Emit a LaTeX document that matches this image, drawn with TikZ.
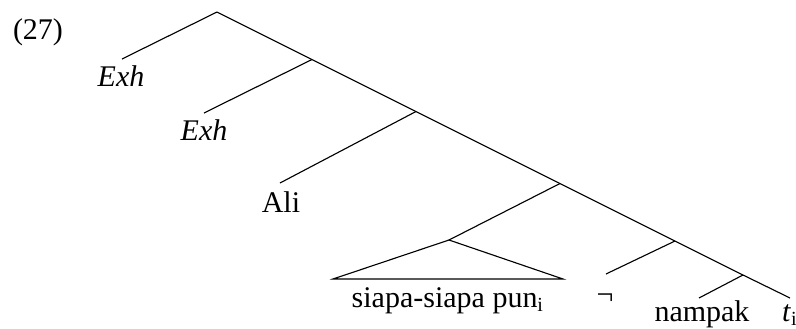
\documentclass[tikz,border=0pt]{standalone}
\usepackage{fontspec}
\setmainfont{Liberation Serif}
\begin{document}
\begin{tikzpicture}[x=0.4pt,y=-0.4pt,line width=0.45pt,
  lbl/.style={anchor=base,inner sep=0pt,font=\fontsize{12}{14}\selectfont}]
\useasboundingbox (0,0) rectangle (796,328);
% internal nodes
\coordinate (r) at (217,12);
\coordinate (n1) at (312,59.5);
\coordinate (n2) at (416,111.5);
\coordinate (n3) at (560,183.5);
\coordinate (n4) at (675,241);
\coordinate (n5) at (743,275);
% branch ends
\coordinate (e1) at (122,59);
\coordinate (e2) at (204,113);
\coordinate (e3) at (280,183);
\coordinate (tri) at (449,240);
\coordinate (trl) at (333,279);
\coordinate (trr) at (563,279);
\coordinate (e4) at (606,274);
\coordinate (e5) at (699,298);
\coordinate (e6) at (790,298);
% labels
\node[lbl] (ex) at (38,39) {(27)};
\node[lbl] (exh1) at (121,86) {\textit{Exh}};
\node[lbl] (exh2) at (204,140) {\textit{Exh}};
\node[lbl] (ali) at (281,212) {Ali};
\node[lbl] (wh) at (448,307) {siapa-siapa pun\textsubscript{i}};
\node[lbl] (neg) at (605,304) {¬};
\node[lbl] (v) at (702,321) {nampak};
\node[lbl] (t) at (790,321) {\textit{t}\textsubscript{i}};
% spine
\draw (r) -- (n1) -- (n2) -- (n3) -- (n4) -- (n5) -- (e6);
% left branches
\draw (r) -- (e1);
\draw (n1) -- (e2);
\draw (n2) -- (e3);
\draw (n3) -- (tri);
\draw (tri) -- (trl) -- (trr) -- cycle;
\draw (n4) -- (e4);
\draw (n5) -- (e5);
\end{tikzpicture}
\end{document}
